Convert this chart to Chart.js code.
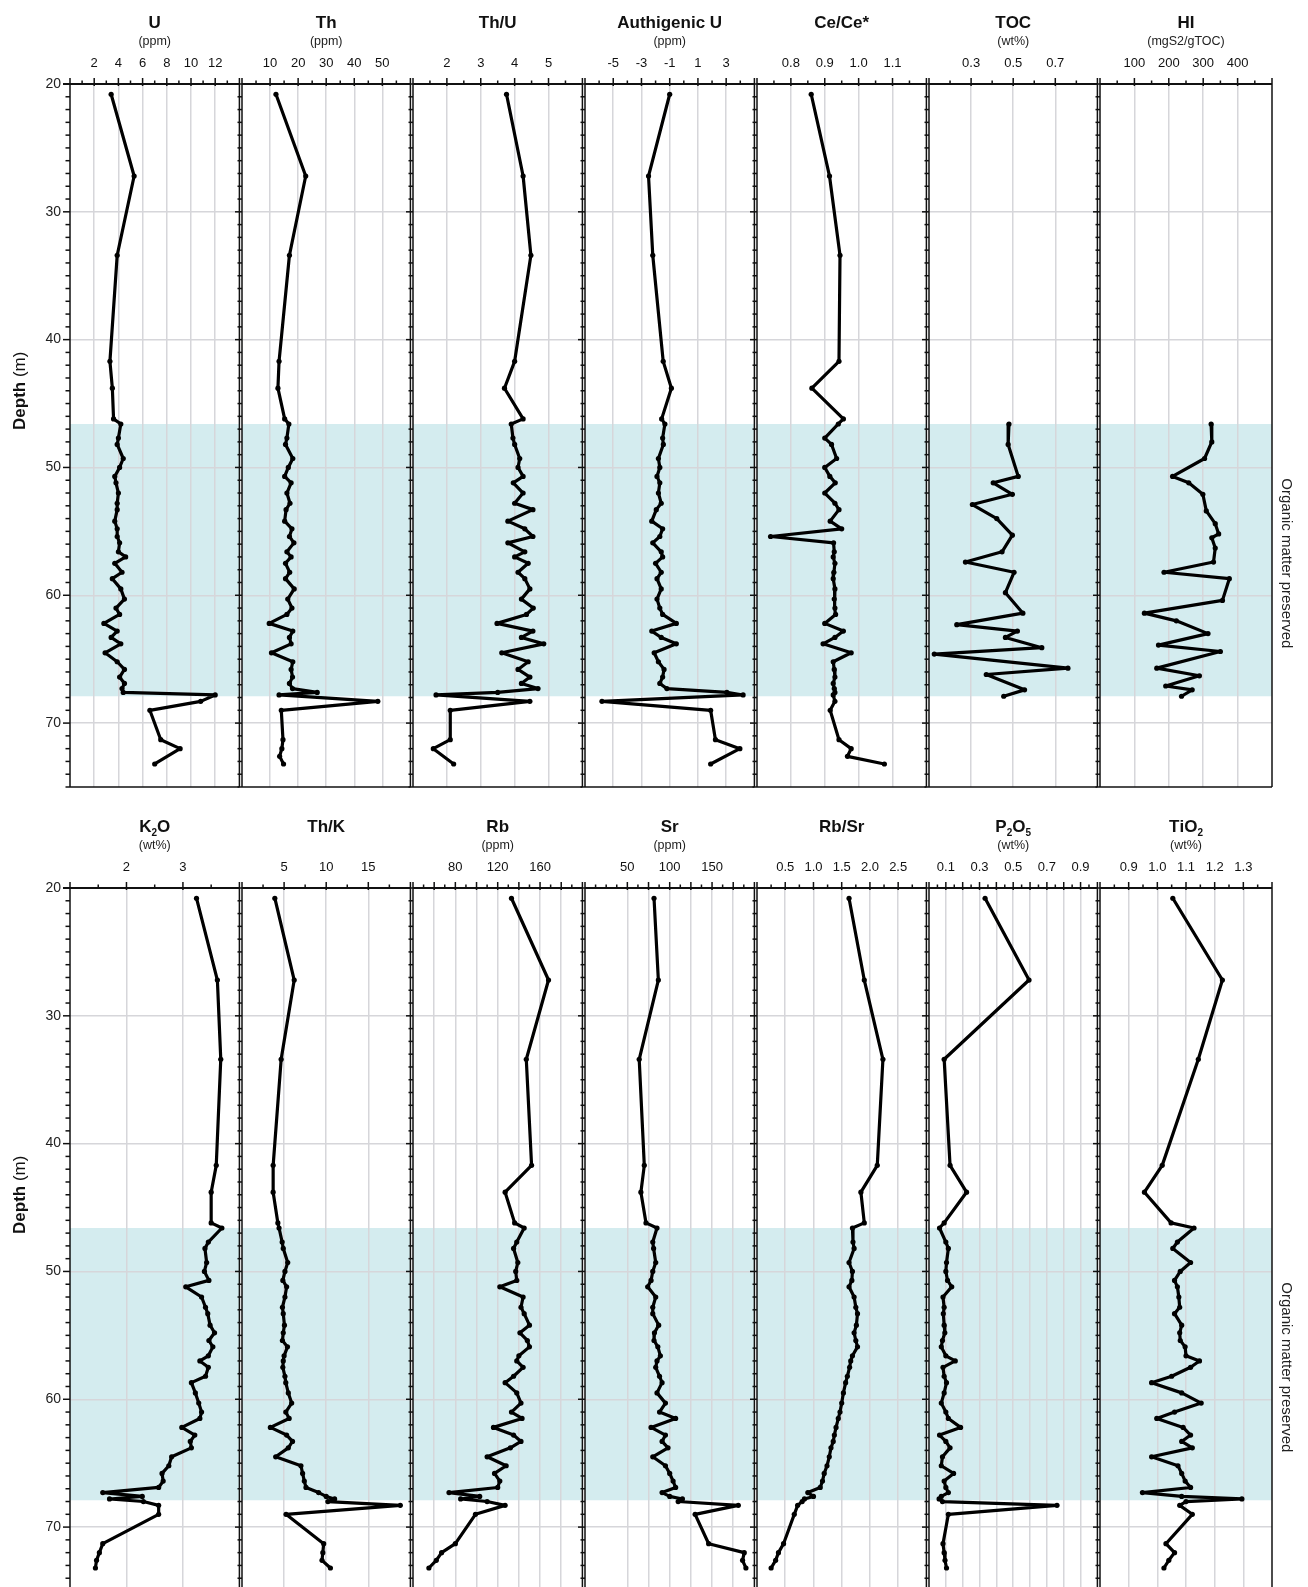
<!DOCTYPE html>
<html>
<head>
<meta charset="utf-8">
<script src="https://cdn.jsdelivr.net/npm/chart.js@4.4.1/dist/chart.umd.min.js"></script>
<style>
  html, body { margin: 0; padding: 0; background: #fff; width: 1308px; height: 1587px; overflow: hidden; }
  .panel { position: absolute; }
</style>
</head>
<body>
<script>
// sample depths (m), shared by the whole-rock series
const depth = [20.8, 27.2, 33.4, 41.7, 43.8, 46.2, 46.6, 47.7, 48.2, 49.3,
  50.0, 50.7, 51.2, 52.0, 52.8, 53.3, 54.2, 54.8, 55.4, 55.9,
  56.6, 57.0, 57.5, 58.2, 58.7, 59.5, 60.3, 61.0, 61.5, 62.2,
  62.8, 63.3, 63.8, 64.5, 65.2, 65.8, 66.4, 66.9, 67.3, 67.6,
  67.8, 68.0, 68.3, 69.0, 71.3, 72.0, 72.6, 73.2];

const uPpm = [3.4, 5.3, 3.9, 3.3, 3.5, 3.6, 4.2, 4.0, 3.9, 4.4,
  4.1, 3.7, 3.8, 4.0, 3.9, 3.9, 3.7, 3.9, 3.9, 4.1,
  4.0, 4.6, 3.7, 4.3, 3.5, 4.2, 4.5, 3.8, 4.1, 2.8,
  3.9, 3.4, 4.2, 2.9, 3.9, 4.5, 4.1, 4.5, 4.3, 4.4,
  12.0, null, 10.8, 6.6, 7.5, 9.1, null, 7.0];
const thPpm = [12.1, 22.7, 16.9, 13.2, 12.8, 15.2, 16.7, 16.0, 15.5, 18.1,
  16.5, 15.2, 17.5, 16.0, 17.1, 15.7, 15.2, 17.8, 16.9, 18.5,
  16.0, 17.5, 15.5, 17.0, 15.5, 18.6, 16.3, 17.8, 16.0, 9.7,
  18.1, 16.9, 17.5, 10.5, 18.1, 17.5, 18.0, 16.9, 18.0, 26.8,
  13.2, null, 48.4, 14.0, 14.6, 14.2, 13.4, 14.8];
const thU = [3.76, 4.25, 4.48, 4.0, 3.7, 4.25, 3.9, 3.95, 4.0, 4.15,
  4.1, 4.25, 3.96, 4.25, 4.0, 4.54, 3.8, 4.3, 4.54, 3.8,
  4.3, 4.0, 4.4, 4.1, 4.3, 4.45, 4.2, 4.55, 4.35, 3.48,
  4.54, 4.2, 4.86, 3.62, 4.4, 4.1, 4.45, 4.2, 4.69, 3.5,
  1.68, null, 4.45, 2.1, 2.1, 1.6, null, 2.2];
const authU = [-1.0, -2.5, -2.2, -1.46, -0.88, -1.57, -1.34, -1.5, -1.45, -1.8,
  -1.7, -1.9, -1.7, -1.8, -1.6, -1.95, -2.27, -1.5, -1.7, -2.2,
  -1.6, -1.5, -2.0, -1.6, -1.9, -1.6, -1.9, -1.7, -1.5, -0.53,
  -2.27, -1.6, -0.53, -2.1, -1.8, -1.4, -1.5, -1.7, -1.2, 3.05,
  4.2, null, -5.8, 1.9, 2.24, 3.97, null, 1.9];
const ceAnom = [0.86, 0.914, 0.945, 0.942, 0.862, 0.955, 0.94, 0.9, 0.92, 0.935,
  0.9, 0.915, 0.931, 0.9, 0.93, 0.942, 0.916, 0.95, 0.74, 0.926,
  0.928, 0.925, 0.93, 0.927, 0.925, 0.93, 0.928, 0.93, 0.932, 0.9,
  0.955, 0.93, 0.895, 0.978, 0.925, 0.928, 0.93, 0.925, 0.928, 0.93,
  0.925, null, 0.93, 0.916, 0.942, 0.978, 0.967, 1.076];

// organic geochemistry, only measured inside the preserved interval
const depthTOC = [46.6, 48.2, 50.7, 51.2, 52.1, 52.9, 54.0, 55.3, 56.6, 57.4, 58.2,
  59.8, 61.4, 62.3, 62.8, 63.3, 64.1, 64.6, 65.7, 66.2, 67.4, 67.9];
const toc = [0.48, 0.476, 0.524, 0.405, 0.496, 0.306, 0.422, 0.496, 0.447, 0.273, 0.504,
  0.463, 0.546, 0.232, 0.52, 0.463, 0.636, 0.125, 0.76, 0.372, 0.554, 0.455];
const depthHI = [46.6, 48.0, 49.3, 50.7, 51.2, 52.1, 53.4, 54.4, 55.2, 55.5, 56.3, 57.4, 58.2,
  58.7, 60.4, 61.4, 62.0, 63.0, 63.9, 64.4, 65.7, 66.3, 67.1, 67.4, 67.9];
const hi = [323, 325, 304, 211, 258, 299, 309, 335, 345, 325, 335, 330, 186,
  376, 356, 129, 222, 314, 170, 350, 165, 289, 191, 268, 237];

const k2o = [3.24, 3.61, 3.67, 3.59, 3.5, 3.5, 3.69, 3.45, 3.39, 3.42,
  3.38, 3.46, 3.05, 3.33, 3.4, 3.44, 3.48, 3.56, 3.46, 3.53,
  3.45, 3.3, 3.45, 3.4, 3.15, 3.22, 3.28, 3.33, 3.3, 2.98,
  3.21, 3.13, 3.15, 2.8, 2.75, 2.63, 2.65, 2.57, 1.58, 2.28,
  1.7, 2.3, 2.57, 2.57, 1.58, 1.52, 1.47, 1.45];
const thK = [3.9, 6.2, 4.65, 3.7, 3.7, 4.26, 4.4, 4.77, 4.9, 5.43,
  5.1, 4.85, 5.3, 5.1, 4.8, 4.9, 5.04, 4.9, 4.8, 5.4,
  5.0, 4.9, 4.85, 5.1, 5.2, 5.5, 5.9, 5.2, 5.6, 3.37,
  5.3, 6.0, 5.5, 4.0, 7.0, 7.2, 7.4, 7.6, 9.1, 10.0,
  11.0, 10.2, 18.8, 5.23, 9.7, 9.6, 9.5, 10.5];
const rb = [133, 168, 147, 152, 127, 136, 145, 138, 135, 139,
  137, 138, 122, 144, 142, 145, 150, 141, 148, 150,
  140, 138, 144, 135, 127, 138, 142, 133, 143, 116,
  135, 142, 132, 110, 128, 117, 122, 120, 74, 103,
  85, 110, 127, 99, 80, 67, 62, 55];
const sr = [81.5, 86.6, 64, 70, 66, 72, 85, 80, 81, 83.5,
  80, 78, 74, 83.5, 80, 80, 87, 82, 81.5, 86,
  89, 85, 83.5, 88, 91, 85, 95, 88, 107, 78,
  95, 91, 98, 80, 95, 100, 104, 107, 91, 100,
  115, 110, 181, 130, 146, 188, 186, 190];
const rbSr = [1.63, 1.9, 2.23, 2.13, 1.84, 1.9, 1.69, 1.7, 1.72, 1.63,
  1.69, 1.68, 1.63, 1.72, 1.75, 1.78, 1.76, 1.72, 1.75, 1.78,
  1.69, 1.66, 1.64, 1.6, 1.57, 1.53, 1.5, 1.47, 1.44, 1.4,
  1.37, 1.35, 1.31, 1.28, 1.24, 1.19, 1.16, 1.12, 0.9, 1.0,
  0.84, 0.8, 0.72, 0.66, 0.47, 0.38, 0.33, 0.25];
const p2o5 = [0.333, 0.594, 0.09, 0.125, 0.223, 0.09, 0.0625, 0.1, 0.115, 0.104,
  0.1, 0.11, 0.135, 0.083, 0.09, 0.085, 0.09, 0.094, 0.08, 0.073,
  0.1, 0.156, 0.083, 0.09, 0.104, 0.09, 0.073, 0.1, 0.115, 0.1875,
  0.0625, 0.1, 0.125, 0.08, 0.073, 0.146, 0.09, 0.1, 0.115, 0.073,
  0.06, 0.08, 0.76, 0.115, 0.083, 0.09, 0.095, 0.104];
const tio2 = [1.054, 1.227, 1.143, 1.017, 0.955, 1.048, 1.128, 1.07, 1.054, 1.116,
  1.08, 1.06, 1.07, 1.075, 1.078, 1.06, 1.085, 1.078, 1.08, 1.097,
  1.1, 1.147, 1.116, 1.05, 0.98, 1.085, 1.153, 1.06, 0.998, 1.09,
  1.116, 1.085, 1.122, 0.98, 1.072, 1.085, 1.097, 1.116, 0.948, 1.085,
  1.295, 1.1, 1.078, 1.122, 1.03, 1.06, 1.04, 1.023];

// tick labels
const depthTicks = [20, 30, 40, 50, 60, 70];
const uTicks = [2, 4, 6, 8, 10, 12];
const thTicks = [10, 20, 30, 40, 50];
const thUTicks = [2, 3, 4, 5];
const authUTicks = [-5, -3, -1, 1, 3];
const ceTicks = [0.8, 0.9, 1.0, 1.1];
const tocTicks = [0.3, 0.5, 0.7];
const hiTicks = [100, 200, 300, 400];
const k2oTicks = [2, 3];
const thKTicks = [5, 10, 15];
const rbTicks = [80, 120, 160];
const srTicks = [50, 100, 150];
const rbSrTicks = [0.5, 1.0, 1.5, 2.0, 2.5];
const p2o5Ticks = [0.1, 0.3, 0.5, 0.7, 0.9];
const tio2Ticks = [0.9, 1.0, 1.1, 1.2, 1.3];

const BAND = [46.6, 67.9];
const FONT = "'Liberation Sans', Arial, Helvetica, sans-serif";

const panels = [
  { title: 'U', unit: '(ppm)', x: uPpm, y: depth, min: 0, max: 14, grid: uTicks, minor: 1, labels: uTicks, dp: 0 },
  { title: 'Th', unit: '(ppm)', x: thPpm, y: depth, min: 0, max: 60, grid: thTicks, minor: 5, labels: thTicks, dp: 0 },
  { title: 'Th/U', unit: '', x: thU, y: depth, min: 1, max: 6, grid: thUTicks, minor: 0.5, labels: thUTicks, dp: 0 },
  { title: 'Authigenic U', unit: '(ppm)', x: authU, y: depth, min: -7, max: 5, grid: authUTicks, minor: 1, labels: authUTicks, dp: 0 },
  { title: 'Ce/Ce*', unit: '', x: ceAnom, y: depth, min: 0.7, max: 1.2, grid: ceTicks, minor: 0.05, labels: ceTicks, dp: 1 },
  { title: 'TOC', unit: '(wt%)', x: toc, y: depthTOC, min: 0.1, max: 0.9, grid: tocTicks, minor: 0.1, labels: tocTicks, dp: 1 },
  { title: 'HI', unit: '(mgS2/gTOC)', x: hi, y: depthHI, min: 0, max: 500, grid: hiTicks, minor: 50, labels: hiTicks, dp: 0 },
  { title: 'K_2O', unit: '(wt%)', x: k2o, y: depth, min: 1, max: 4, grid: k2oTicks, minor: 0.5, labels: k2oTicks, dp: 0 },
  { title: 'Th/K', unit: '', x: thK, y: depth, min: 0, max: 20, grid: thKTicks, minor: 2.5, labels: thKTicks, dp: 0 },
  { title: 'Rb', unit: '(ppm)', x: rb, y: depth, min: 40, max: 200, grid: [60, 80, 100, 120, 140, 160, 180], minor: 10, labels: rbTicks, dp: 0 },
  { title: 'Sr', unit: '(ppm)', x: sr, y: depth, min: 0, max: 200, grid: [50, 75, 100, 125, 150, 175], minor: 12.5, labels: srTicks, dp: 0 },
  { title: 'Rb/Sr', unit: '', x: rbSr, y: depth, min: 0, max: 3, grid: rbSrTicks, minor: 0.25, labels: rbSrTicks, dp: 1 },
  { title: 'P_2O_5', unit: '(wt%)', x: p2o5, y: depth, min: 0, max: 1, grid: [0.1, 0.2, 0.3, 0.4, 0.5, 0.6, 0.7, 0.8, 0.9], minor: 0.05, labels: p2o5Ticks, dp: 1 },
  { title: 'TiO_2', unit: '(wt%)', x: tio2, y: depth, min: 0.8, max: 1.4, grid: tio2Ticks, minor: 0.05, labels: tio2Ticks, dp: 1 }
];

// page geometry
const LEFT0 = 70, PW = 171.7, AXIS_H = 84, PLOT_H = 703, BOTTOM_PAD = 6;
const ROW_TOP = [0, 804];

const near = (a, b) => Math.abs(a - b) < 1e-7;

function drawTitle(ctx, text, cx, cy) {
  const parts = [];
  for (let k = 0; k < text.length; k++) {
    if (text[k] === '_') { parts.push([text[k + 1], true]); k++; }
    else parts.push([text[k], false]);
  }
  const big = 'bold 17px ' + FONT, small = 'bold 10px ' + FONT;
  let w = 0;
  parts.forEach(([s, sub]) => { ctx.font = sub ? small : big; w += ctx.measureText(s).width; });
  let xx = cx - w / 2;
  ctx.textAlign = 'left';
  ctx.textBaseline = 'middle';
  parts.forEach(([s, sub]) => {
    ctx.font = sub ? small : big;
    ctx.fillText(s, xx, cy + (sub ? 6 : 0));
    xx += ctx.measureText(s).width;
  });
}

function decoPlugin(p, col) {
  return {
    id: 'deco',
    beforeDraw(chart) {
      const { ctx, chartArea: a, scales: { y } } = chart;
      const t = y.getPixelForValue(BAND[0]), b = y.getPixelForValue(BAND[1]);
      ctx.save();
      ctx.fillStyle = '#d4ecef';
      ctx.fillRect(a.left, t, a.right - a.left, b - t);
      ctx.restore();
    },
    afterDraw(chart) {
      const { ctx, chartArea: a, scales: { x, y } } = chart;
      ctx.save();
      ctx.strokeStyle = '#111';
      ctx.lineCap = 'butt';
      const seg = (x1, y1, x2, y2) => { ctx.beginPath(); ctx.moveTo(x1, y1); ctx.lineTo(x2, y2); ctx.stroke(); };

      // frame
      ctx.lineWidth = 1.5;
      seg(a.left, a.top - 6, a.left, a.bottom);
      seg(a.right, a.top - 6, a.right, a.bottom);
      seg(a.left, a.bottom, a.right, a.bottom);
      ctx.lineWidth = 2;
      seg(a.left - (col === 0 ? 7 : 0), a.top, a.right, a.top);

      // x ticks
      ctx.lineWidth = 1.5;
      const n = Math.round((p.max - p.min) / p.minor);
      for (let k = 1; k < n; k++) {
        const v = p.min + k * p.minor;
        const px = x.getPixelForValue(v);
        const major = p.grid.some(g => near(g, v));
        if (major) seg(px, a.top - 6, px, a.top + 2);
        else seg(px, a.top - 3.5, px, a.top);
      }
      // depth ticks
      for (let d = 20; d <= 75; d++) {
        const py = y.getPixelForValue(d);
        const len = d % 10 === 0 ? 7 : 4.5;
        seg(a.left - len, py, a.left, py);
      }

      // titles
      ctx.fillStyle = '#111';
      const cx = (a.left + a.right) / 2;
      drawTitle(ctx, p.title, cx, a.top - 61);
      if (p.unit) {
        ctx.font = '12.5px ' + FONT;
        ctx.textAlign = 'center';
        ctx.textBaseline = 'middle';
        ctx.fillStyle = '#222';
        ctx.fillText(p.unit, cx, a.top - 42);
      }

      if (col === 0) {
        ctx.save();
        ctx.translate(20, y.getPixelForValue(44));
        ctx.rotate(-Math.PI / 2);
        ctx.textBaseline = 'middle';
        ctx.textAlign = 'left';
        ctx.font = 'bold 17px ' + FONT;
        const w1 = ctx.measureText('Depth ').width;
        ctx.font = '17px ' + FONT;
        const w2 = ctx.measureText('(m)').width;
        ctx.font = 'bold 17px ' + FONT;
        ctx.fillStyle = '#111';
        ctx.fillText('Depth ', -(w1 + w2) / 2, 0);
        ctx.font = '17px ' + FONT;
        ctx.fillText('(m)', -(w1 + w2) / 2 + w1, 0);
        ctx.restore();
      }
      if (col === 6) {
        ctx.save();
        ctx.translate(a.right + 14, y.getPixelForValue(57.5));
        ctx.rotate(Math.PI / 2);
        ctx.textAlign = 'center';
        ctx.textBaseline = 'middle';
        ctx.font = '15px ' + FONT;
        ctx.fillStyle = '#222';
        ctx.fillText('Organic matter preserved', 0, 0);
        ctx.restore();
      }
      ctx.restore();
    }
  };
}

panels.forEach((p, i) => {
  const row = Math.floor(i / 7), col = i % 7;
  const x0 = Math.round(LEFT0 + col * PW), x1 = Math.round(LEFT0 + (col + 1) * PW);
  const padL = col === 0 ? 70 : 12;
  const padR = col === 6 ? 36 : 0;

  const box = document.createElement('div');
  box.className = 'panel';
  box.style.left = (x0 - padL) + 'px';
  box.style.top = ROW_TOP[row] + 'px';
  box.style.width = (x1 - x0 + padL + padR) + 'px';
  box.style.height = (AXIS_H + PLOT_H + BOTTOM_PAD) + 'px';
  const canvas = document.createElement('canvas');
  box.appendChild(canvas);
  document.body.appendChild(box);

  new Chart(canvas, {
    type: 'scatter',
    data: {
      datasets: [{
        data: p.x.map((v, k) => ({ x: v, y: p.y[k] })),
        showLine: true,
        spanGaps: true,
        borderColor: '#000',
        backgroundColor: '#000',
        borderWidth: 3.2,
        borderJoinStyle: 'round',
        pointRadius: 2.6,
        pointBorderWidth: 0,
        pointHoverRadius: 2.6
      }]
    },
    options: {
      responsive: true,
      maintainAspectRatio: false,
      animation: false,
      events: [],
      layout: { padding: { top: 0, left: 0, right: padR, bottom: BOTTOM_PAD } },
      plugins: { legend: { display: false }, tooltip: { enabled: false } },
      scales: {
        x: {
          type: 'linear',
          position: 'top',
          min: p.min,
          max: p.max,
          afterBuildTicks: s => { s.ticks = p.grid.map(v => ({ value: v })); },
          afterFit: s => { s.height = AXIS_H; s.paddingLeft = 0; s.paddingRight = 0; },
          ticks: {
            autoSkip: false, maxRotation: 0, minRotation: 0, padding: 13,
            font: { size: 13, family: FONT }, color: '#111',
            callback: v => {
              const lab = p.labels.find(l => near(l, v));
              return lab === undefined ? '' : lab.toFixed(p.dp);
            }
          },
          grid: { color: '#d6d6da', lineWidth: 1.5, drawTicks: false },
          border: { display: false }
        },
        y: {
          type: 'linear',
          position: 'left',
          reverse: true,
          min: 20,
          max: 75,
          afterBuildTicks: s => { s.ticks = depthTicks.map(v => ({ value: v })); },
          afterFit: s => { s.width = padL; s.paddingTop = 0; s.paddingBottom = 0; },
          ticks: { display: col === 0, padding: 9, font: { size: 14, family: FONT }, color: '#222' },
          grid: { color: c => (c.tick && c.tick.value === 20) ? 'rgba(0,0,0,0)' : '#d6d6da', lineWidth: 1.5, drawTicks: false },
          border: { display: false }
        }
      }
    },
    plugins: [decoPlugin(p, col)]
  });
});
</script>
</body>
</html>
